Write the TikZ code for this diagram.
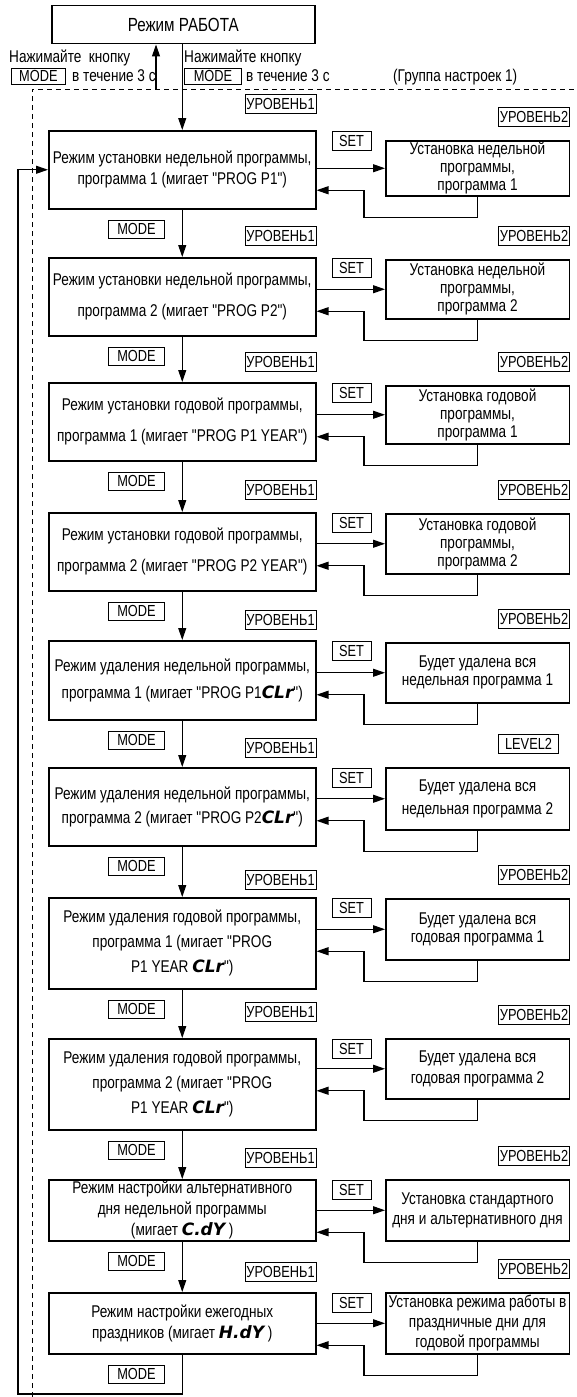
\documentclass[tikz,border=0pt]{standalone}
\usepackage{fontspec}
\setmainfont{Liberation Sans}[FakeStretch=0.8, Ligatures=TeXOff]
\newfontfamily\segfont{DejaVu Sans}
\usepackage{tikz}
\usetikzlibrary{arrows.meta, positioning, calc}
\newcommand{\seg}[1]{{\segfont\bfseries\itshape #1}}

\begin{document}
\begin{tikzpicture}[x=1pt, y=-1pt,
		stage/.style={draw, line width=1.5pt, anchor=north west, inner sep=0pt, align=center, minimum width=267pt, font=\fontsize{17}{24}\selectfont},
		action/.style={draw, line width=1.5pt, anchor=north west, inner sep=0pt, align=center, minimum width=183.5pt, font=\fontsize{17}{18}\selectfont},
		tag/.style={draw, line width=0.9pt, inner sep=0pt, minimum height=19pt, font=\fontsize{16}{16}\selectfont},
		lvl/.style={tag, minimum width=71pt},
		setkey/.style={tag, minimum width=39pt},
		modekey/.style={tag, minimum width=56pt, minimum height=18pt},
		note/.style={anchor=west, inner sep=0pt, font=\fontsize{17}{20}\selectfont},
		arr/.style={line width=1.1pt, -{Triangle[length=12pt, width=8pt]}}]
			\useasboundingbox (0,0) rectangle (577,1397);
			
			% work mode and the keys
			\node[stage, minimum width=263pt, minimum height=38pt, font=\fontsize{19}{22}\selectfont] (work) at (51,5) {Режим РАБОТА};
			\node[note] (push1) at (9,58) {Нажимайте\ \ кнопку};
			\node[tag, anchor=north west, minimum width=54pt, minimum height=16pt] (key1) at (11,68) {MODE};
			\node[note] (hold1) at (72,76) {в течение 3 с};
			\node[note] (push2) at (184,58) {Нажимайте кнопку};
			\node[tag, anchor=north west, minimum width=57pt, minimum height=16pt] (key2) at (184,68) {MODE};
			\node[note] (hold2) at (246,76) {в течение 3 с};
			\node[note] (group) at (393,77) {(Группа настроек 1)};
			
			% group frame
			\coordinate (frame) at (32,89);
			\draw[line width=0.9pt, dash pattern=on 5pt off 4pt] (32,1397) -- (frame) -- (577,89);
			
			% level 1 modes
			\node[stage, minimum height=78pt, font=\fontsize{17}{21}\selectfont] (m1) at (48,130) {Режим установки недельной программы,\\программа 1 (мигает "PROG P1")};
			\node[stage, minimum height=78pt, font=\fontsize{17}{31}\selectfont] (m2) at (48,257) {Режим установки недельной программы,\\программа 2 (мигает "PROG P2")};
			\node[stage, minimum height=78pt, font=\fontsize{17}{31}\selectfont] (m3) at (48,382) {Режим установки годовой программы,\\программа 1 (мигает "PROG P1 YEAR")};
			\node[stage, minimum height=78pt, font=\fontsize{17}{31}\selectfont] (m4) at (48,512) {Режим установки годовой программы,\\программа 2 (мигает "PROG P2 YEAR")};
			\node[stage, minimum height=79pt, font=\fontsize{17}{27}\selectfont] (m5) at (48,640) {Режим удаления недельной программы,\\программа 1 (мигает "PROG P1\seg{CLr}")};
			\node[stage, minimum height=78pt] (m6) at (48,767) {Режим удаления недельной программы,\\программа 2 (мигает "PROG P2\seg{CLr}")};
			\node[stage, minimum height=91pt, font=\fontsize{17}{25}\selectfont] (m7) at (48,897) {Режим удаления годовой программы,\\программа 1 (мигает "PROG\\P1 YEAR \seg{CLr}")};
			\node[stage, minimum height=91pt, font=\fontsize{17}{25}\selectfont] (m8) at (48,1038) {Режим удаления годовой программы,\\программа 2 (мигает "PROG\\P1 YEAR \seg{CLr}")};
			\node[stage, minimum height=61pt, font=\fontsize{17}{21}\selectfont] (m9) at (48,1179) {Режим настройки альтернативного\\дня недельной программы\\(мигает \seg{C.dY} )};
			\node[stage, minimum height=61pt, font=\fontsize{17}{21}\selectfont] (m10) at (48,1292) {Режим настройки ежегодных\\праздников (мигает \seg{H.dY} )};
			
			% level 2 settings
			\node[action, minimum height=55pt] (s1) at (385,140) {Установка недельной\\программы,\\программа 1};
			\node[action, minimum height=59pt] (s2) at (385,259) {Установка недельной\\программы,\\программа 2};
			\node[action, minimum height=58pt] (s3) at (385,385) {Установка годовой\\программы,\\программа 1};
			\node[action, minimum height=60pt] (s4) at (385,513) {Установка годовой\\программы,\\программа 2};
			\node[action, minimum height=60pt] (s5) at (385,642) {Будет удалена вся\\недельная программа 1};
			\node[action, minimum height=62pt, font=\fontsize{17}{23}\selectfont] (s6) at (385,767) {Будет удалена вся\\недельная программа 2};
			\node[action, minimum height=61pt] (s7) at (385,898) {Будет удалена вся\\годовая программа 1};
			\node[action, minimum height=60pt, font=\fontsize{17}{21}\selectfont] (s8) at (385,1038) {Будет удалена вся\\годовая программа 2};
			\node[action, minimum height=61pt, font=\fontsize{17}{20}\selectfont] (s9) at (385,1179) {Установка стандартного\\дня и альтернативного дня};
			\node[action, minimum height=61pt, font=\fontsize{17}{20}\selectfont] (s10) at (385,1292) {Установка режима работы в\\праздничные дни для\\годовой программы};
			
			% key and level tags
			\foreach \i/\gap in {1/16pt, 2/11pt, 3/10pt, 4/12pt, 5/10pt, 6/9pt, 7/7pt, 8/16pt, 9/11pt, 10/10pt} {
				\node[lvl, above left=\gap and 0pt of m\i.north east] (u\i) {УРОВЕНЬ1};
				\node[setkey, below right=1pt and 15pt of m\i.north east] (k\i) {SET};
				\node[modekey, below right=10pt and 60pt of m\i.south west] (d\i) {MODE};
			}
			\foreach \i in {1,2,3,4,5,7,8,9,10}
				\node[lvl, above left=13pt and 0pt of s\i.north east] (v\i) {УРОВЕНЬ2};
			\node[tag, minimum width=60pt, above left=13pt and 11pt of s6.north east] (v6) {LEVEL2};
			
			% connectors
			\coordinate (back) at (156,89);
			\draw[arr] (back) -- (back |- work.south);
			\draw[arr] (m1.north |- work.south) -- (m1.north);
			\foreach \i/\j in {1/2, 2/3, 3/4, 4/5, 5/6, 6/7, 7/8, 8/9, 9/10}
				\draw[arr] (m\i.south) -- (m\j.north);
			\foreach \i in {1,...,10} {
				\draw[arr] (m\i.east |- s\i.west) -- (s\i.west);
				\draw[arr] (s\i.south) -- ++(0,21) -| ($(s\i.west)+(-21,22)$) -- ($(m\i.east |- s\i.west)+(0,22)$);
			}
			\coordinate (loop) at (18,1394);
			\draw[arr] (m10.south) |- (loop) |- (m1.west);
			
		\end{tikzpicture}
\end{document}
